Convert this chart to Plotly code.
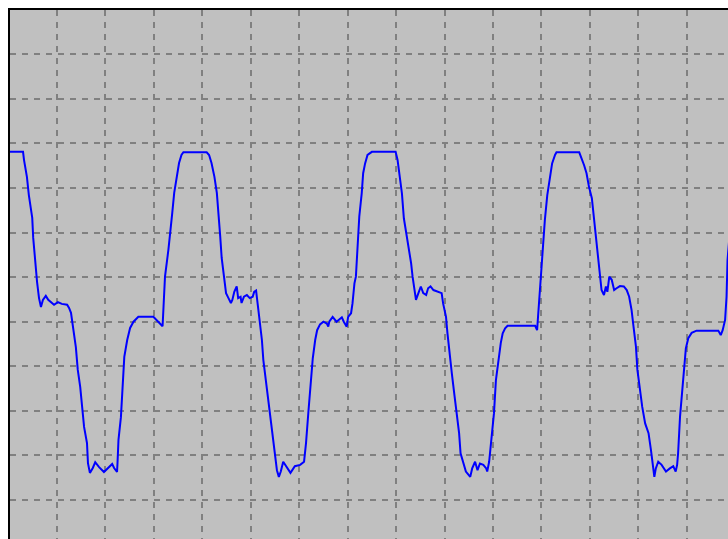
import plotly.graph_objects as go

# Scope trace, time in divisions (x) and amplitude in divisions (y)
time_div = [
    0.00, 0.30, 0.32, 0.38, 0.42, 0.49, 0.51, 0.55, 0.59, 0.63, 0.67, 0.71, 0.77, 0.82, 0.90, 0.94,
    1.02, 1.10, 1.21, 1.25, 1.29, 1.33, 1.39, 1.43, 1.48, 1.52, 1.56, 1.62, 1.64, 1.68, 1.74, 1.79,
    1.87, 1.97, 2.05, 2.14, 2.18, 2.24, 2.25, 2.27, 2.32, 2.36, 2.39, 2.45, 2.51, 2.58, 2.68, 2.99,
    3.09, 3.18, 3.20, 3.23, 3.30, 3.33, 3.38, 3.42, 3.47, 3.52, 3.57, 3.61, 4.09, 4.14, 4.19, 4.25,
    4.30, 4.33, 4.37, 4.40, 4.45, 4.49, 4.54, 4.59, 4.62, 4.66, 4.71, 4.74, 4.79, 4.81, 4.86, 4.92,
    4.98, 5.04, 5.07, 5.11, 5.14, 5.18, 5.23, 5.26, 5.31, 5.36, 5.41, 5.47, 5.50, 5.54, 5.58, 5.62,
    5.67, 5.74, 5.82, 5.91, 6.02, 6.10, 6.14, 6.19, 6.24, 6.28, 6.33, 6.37, 6.43, 6.50, 6.57, 6.60,
    6.62, 6.69, 6.77, 6.88, 6.92, 6.98, 7.01, 7.07, 7.10, 7.14, 7.17, 7.20, 7.24, 7.29, 7.32, 7.36,
    7.41, 7.50, 7.99, 8.03, 8.08, 8.12, 8.16, 8.22, 8.27, 8.31, 8.34, 8.38, 8.41, 8.46, 8.51, 8.56,
    8.62, 8.66, 8.71, 8.77, 8.87, 8.94, 8.97, 9.03, 9.06, 9.10, 9.15, 9.20, 9.25, 9.30, 9.33, 9.39,
    9.44, 9.53, 9.57, 9.63, 9.68, 9.73, 9.80, 9.86, 9.88, 9.92, 9.97, 10.02, 10.06, 10.11, 10.16, 10.20,
    10.25, 10.30, 10.87, 10.91, 10.93, 10.97, 11.03, 11.07, 11.12, 11.18, 11.22, 11.28, 11.31, 11.78, 11.83, 11.88,
    11.93, 11.98, 12.04, 12.08, 12.13, 12.17, 12.21, 12.24, 12.29, 12.33, 12.36, 12.40, 12.45, 12.50, 12.55, 12.62,
    12.70, 12.76, 12.81, 12.86, 12.90, 12.95, 12.98, 13.03, 13.08, 13.14, 13.21, 13.26, 13.30, 13.33, 13.36, 13.41,
    13.48, 13.57, 13.65, 13.72, 13.77, 13.80, 13.82, 13.86, 13.91, 13.95, 13.98, 14.03, 14.10, 14.20, 14.65, 14.70,
    14.74, 14.79, 14.82, 14.84, 14.89,
]
amplitude_div = [
    2.81, 2.81, 2.63, 2.25, 1.84, 1.33, 0.88, 0.32, -0.11, -0.47, -0.67, -0.51, -0.42, -0.51, -0.58, -0.62,
    -0.56, -0.60, -0.62, -0.69, -0.80, -1.12, -1.57, -2.08, -2.46, -2.91, -3.36, -3.72, -4.17, -4.39, -4.28, -4.15,
    -4.26, -4.37, -4.28, -4.19, -4.28, -4.37, -4.17, -3.65, -3.14, -2.37, -1.79, -1.41, -1.14, -1.00, -0.89, -0.89,
    -1.00, -1.10, -0.66, 0.01, 0.61, 0.99, 1.44, 1.89, 2.25, 2.56, 2.74, 2.80, 2.80, 2.74, 2.56, 2.25,
    1.89, 1.36, 0.91, 0.43, -0.06, -0.36, -0.47, -0.58, -0.51, -0.33, -0.21, -0.47, -0.44, -0.58, -0.44, -0.40,
    -0.47, -0.44, -0.33, -0.30, -0.58, -0.96, -1.41, -1.86, -2.31, -2.82, -3.27, -3.69, -4.03, -4.33, -4.48, -4.36,
    -4.14, -4.25, -4.39, -4.24, -4.21, -4.14, -3.73, -3.02, -2.31, -1.82, -1.41, -1.19, -1.06, -1.00, -1.04, -1.11,
    -1.00, -0.89, -1.00, -0.90, -1.00, -1.11, -0.89, -0.81, -0.59, -0.14, 0.01, 0.68, 1.36, 1.88, 2.33, 2.55,
    2.74, 2.81, 2.81, 2.63, 2.25, 1.88, 1.32, 0.95, 0.65, 0.31, 0.01, -0.33, -0.51, -0.36, -0.21, -0.36,
    -0.40, -0.25, -0.21, -0.29, -0.33, -0.36, -0.59, -0.89, -1.26, -1.71, -2.16, -2.61, -3.05, -3.50, -3.95, -4.21,
    -4.36, -4.48, -4.29, -4.14, -4.33, -4.18, -4.21, -4.29, -4.36, -4.14, -3.65, -3.05, -2.31, -1.82, -1.48, -1.26,
    -1.15, -1.09, -1.09, -1.19, -0.89, -0.14, 0.53, 1.28, 1.84, 2.25, 2.55, 2.74, 2.80, 2.80, 2.67, 2.51,
    2.33, 2.03, 1.77, 1.36, 0.91, 0.46, 0.01, -0.29, -0.40, -0.21, -0.33, 0.01, -0.06, -0.29, -0.25, -0.20,
    -0.21, -0.29, -0.44, -0.74, -1.11, -1.56, -2.08, -2.53, -2.91, -3.28, -3.50, -3.88, -4.25, -4.48, -4.29, -4.14,
    -4.21, -4.36, -4.29, -4.24, -4.36, -4.21, -3.95, -3.13, -2.49, -2.01, -1.60, -1.37, -1.25, -1.20, -1.20, -1.30,
    -1.19, -0.96, -0.44, 0.38, 1.05,
]

# Visible window of the screen, in divisions
x_window = [0.031, 14.85]
y_window = [-5.873, 5.991]

fig = go.Figure(
    go.Scatter(
        x=time_div,
        y=amplitude_div,
        mode="lines",
        line=dict(color="#0000ff", width=2),
        hoverinfo="skip",
    )
)

grid_style = dict(
    showgrid=True,
    gridcolor="#808080",
    gridwidth=2,
    griddash="6px,6px",
    zeroline=False,
    showticklabels=False,
    ticks="",
    dtick=1,
    tick0=0,
    showline=True,
    linecolor="#000000",
    linewidth=2,
    mirror=False,
    fixedrange=True,
)

fig.update_xaxes(range=x_window, side="top", **grid_style)
fig.update_yaxes(range=y_window, side="left", **grid_style)

fig.update_layout(
    width=728,
    height=539,
    margin=dict(l=10, r=0, t=10, b=0, pad=0),
    paper_bgcolor="#ffffff",
    plot_bgcolor="#c0c0c0",
    showlegend=False,
)

fig.write_html("out.html", config={"displayModeBar": False})
